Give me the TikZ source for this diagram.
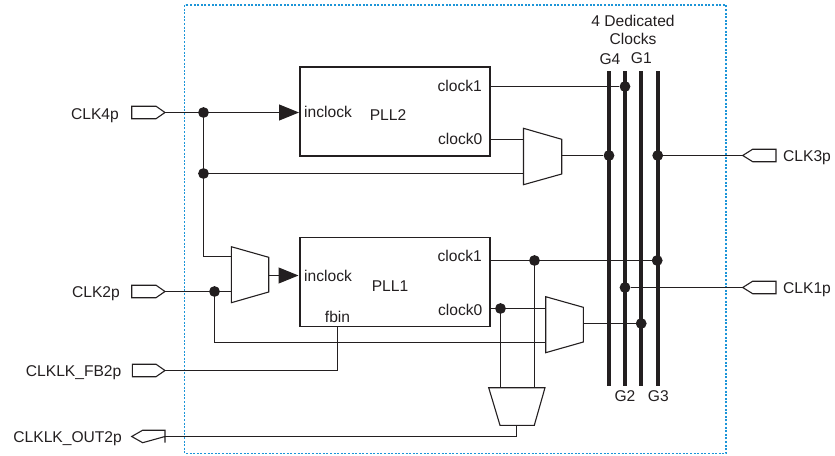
\documentclass[tikz,border=0pt]{standalone}
\usepackage{fontspec}
\setmainfont{Liberation Sans}
\usetikzlibrary{arrows.meta}
\definecolor{ink}{HTML}{231F20}
\definecolor{dashblue}{HTML}{1C95D8}
\tikzset{
  lbl/.style={font=\fontsize{15.6}{18}\selectfont, text=ink, inner sep=0pt, anchor=base},
  lblr/.style={lbl, anchor=base east},
  lbll/.style={lbl, anchor=base west},
  wire/.style={draw=ink, line width=1.15pt},
  shapeline/.style={draw=ink, line width=1.1pt, line join=miter},
  pllbox/.style={draw=ink, line width=1.1pt, minimum width=190pt, minimum height=89pt, inner sep=0pt},
  dotnode/.style={circle, fill=ink, minimum size=10.8pt, inner sep=0pt},
  bar/.style={draw=ink, line width=4.2pt},
  bigarrow/.style={wire, -{Triangle[length=20pt,width=16pt]}}
}
\begin{document}
\begin{tikzpicture}[x=1pt,y=-1pt]
\useasboundingbox (0,0) rectangle (835,455);
% outer dotted frame
\draw[draw=dashblue, line width=1.3pt, dash pattern=on 2pt off 1.6pt] (184.7,5) rectangle (726,453.7);

% PLL boxes
\node[pllbox] (pll2) at (395,111.5) {};
\node[pllbox] (pll1) at (395,282.2) {};

% named points
\coordinate (clk4) at (165,112.5);
\coordinate (clk2) at (165,291.5);
\coordinate (fb) at (165,370.5);
\coordinate (out) at (165,436.5);
\coordinate (clk3) at (742.7,155.5);
\coordinate (clk1) at (742.7,287.5);

\coordinate (pll2in) at (299,112.5);
\coordinate (pll1in) at (298.5,275.5);
\coordinate (pll2c1) at (490,86.5);
\coordinate (pll2c0) at (490,139.5);
\coordinate (pll1c1) at (490,260.5);
\coordinate (pll1c0) at (490,308.5);
\coordinate (fbpin) at (337.5,326.7);

% mux pins
\coordinate (m1a) at (231.3,256.5);
\coordinate (m1b) at (231.3,291.5);
\coordinate (m1o) at (268.7,275.5);
\coordinate (m2a) at (523.5,139.5);
\coordinate (m2b) at (523.5,173.5);
\coordinate (m2o) at (561.7,155.5);
\coordinate (m3a) at (545.7,308.5);
\coordinate (m3b) at (545.7,342.5);
\coordinate (m3o) at (583.3,323.5);
\coordinate (m4a) at (500.5,387.7);
\coordinate (m4b) at (534.5,387.7);
\coordinate (m4o) at (516.5,425.3);

% dedicated clock bars
\coordinate (g4t) at (608.8,71);
\coordinate (g4b) at (608.8,385.7);
\coordinate (g2t) at (625,71);
\coordinate (g2b) at (625,385.7);
\coordinate (g1t) at (641.3,71);
\coordinate (g1b) at (641.3,385.7);
\coordinate (g3t) at (657.7,71);
\coordinate (g3b) at (657.7,385.7);
\draw[bar] (g4t) -- (g4b);
\draw[bar] (g2t) -- (g2b);
\draw[bar] (g1t) -- (g1b);
\draw[bar] (g3t) -- (g3b);

% junction dots
\node[dotnode] (d1) at (203.5,112.5) {};
\node[dotnode] (d2) at (203.5,173.5) {};
\node[dotnode] (d3) at (214.5,291.5) {};
\node[dotnode] (d4) at (625,86.5) {};
\node[dotnode] (d5) at (609,155.5) {};
\node[dotnode] (d6) at (657.7,155.5) {};
\node[dotnode] (d7) at (534.5,260.5) {};
\node[dotnode] (d8) at (657.2,260.5) {};
\node[dotnode] (d9) at (500.5,308.5) {};
\node[dotnode] (d10) at (625,287.5) {};
\node[dotnode] (d11) at (641.2,323.5) {};

% wires
\draw[wire] (clk4) -- (d1);
\draw[bigarrow] (d1) -- (pll2in);
\draw[wire] (d1) -- (d2);
\draw[wire] (d2) -- (m2b);
\draw[wire] (d2) |- (m1a);
\draw[wire] (clk2) -- (d3);
\draw[wire] (d3) -- (m1b);
\draw[wire] (d3) |- (m3b);
\draw[bigarrow] (m1o) -- (pll1in);
\draw[wire] (fb) -| (fbpin);
\draw[wire] (m4o) |- (out);
\draw[wire] (pll2c1) -- (d4);
\draw[wire] (pll2c0) -- (m2a);
\draw[wire] (m2o) -- (d5);
\draw[wire] (d6) -- (clk3);
\draw[wire] (pll1c1) -- (d7);
\draw[wire] (d7) -- (d8);
\draw[wire] (d7) -- (m4b);
\draw[wire] (pll1c0) -- (d9);
\draw[wire] (d9) -- (m3a);
\draw[wire] (d9) -- (m4a);
\draw[wire] (m3o) -- (d11);
\draw[wire] (d10) -- (clk1);

% muxes
\draw[shapeline, fill=white] (231.3,246.7) -- (268.7,257.3) -- (268.7,292) -- (231.3,302.7) -- cycle;
\draw[shapeline, fill=white] (523.5,128.3) -- (561.7,139.3) -- (561.7,174) -- (523.5,184.7) -- cycle;
\draw[shapeline, fill=white] (545.7,296.7) -- (583.3,307.3) -- (583.3,342) -- (545.7,352.7) -- cycle;
\draw[shapeline, fill=white] (488.7,387.7) -- (545,387.7) -- (534.3,425.3) -- (500,425.3) -- cycle;

% pads
\draw[shapeline] (clk4) -- (156,118.7) -- (131.7,118.7) -- (131.7,106.2) -- (156,106.2) -- cycle;
\draw[shapeline] (clk2) -- (156,297.7) -- (131.7,297.7) -- (131.7,285.2) -- (156,285.2) -- cycle;
\draw[shapeline] (fb) -- (156,376.7) -- (132.3,376.7) -- (132.3,364.2) -- (156,364.2) -- cycle;
\draw[shapeline] (out) -- (142.7,442.7) -- (131.7,436.5) -- (142.7,430.2) -- (165,430.2) -- (165,442.7) -- cycle;
\draw[shapeline] (clk3) -- (752.7,149.2) -- (776,149.2) -- (776,161.7) -- (752.7,161.7) -- cycle;
\draw[shapeline] (clk1) -- (752.7,281.2) -- (776,281.2) -- (776,293.7) -- (752.7,293.7) -- cycle;

% labels
\node[lblr] (tclk4) at (119,119.2) {CLK4p};
\node[lblr] (tclk2) at (120,297.3) {CLK2p};
\node[lblr] (tfb) at (121.5,376.7) {CLKLK\_FB2p};
\node[lblr] (tout) at (122,442) {CLKLK\_OUT2p};
\node[lbll] (tclk3) at (783,161) {CLK3p};
\node[lbll] (tclk1) at (783,293) {CLK1p};
\node[lbll] (ti2) at (304,117) {inclock};
\node[lbl] (tp2) at (388,120.5) {PLL2};
\node[lblr] (tc21) at (482,91.5) {clock1};
\node[lblr] (tc20) at (482.5,144.5) {clock0};
\node[lbll] (ti1) at (304,281) {inclock};
\node[lbl] (tp1) at (390,291.5) {PLL1};
\node[lbl] (tfbin) at (337.5,322) {fbin};
\node[lblr] (tc11) at (482,261) {clock1};
\node[lblr] (tc10) at (482.5,315.5) {clock0};
\node[lbl] (td1) at (633,26.3) {4 Dedicated};
\node[lbl] (td2) at (633,44.5) {Clocks};
\node[lbl] (tg4) at (610,64.5) {G4};
\node[lbl] (tg1) at (641.3,63.5) {G1};
\node[lbl] (tg2) at (625,401.5) {G2};
\node[lbl] (tg3) at (658.3,401.5) {G3};
\end{tikzpicture}
\end{document}
